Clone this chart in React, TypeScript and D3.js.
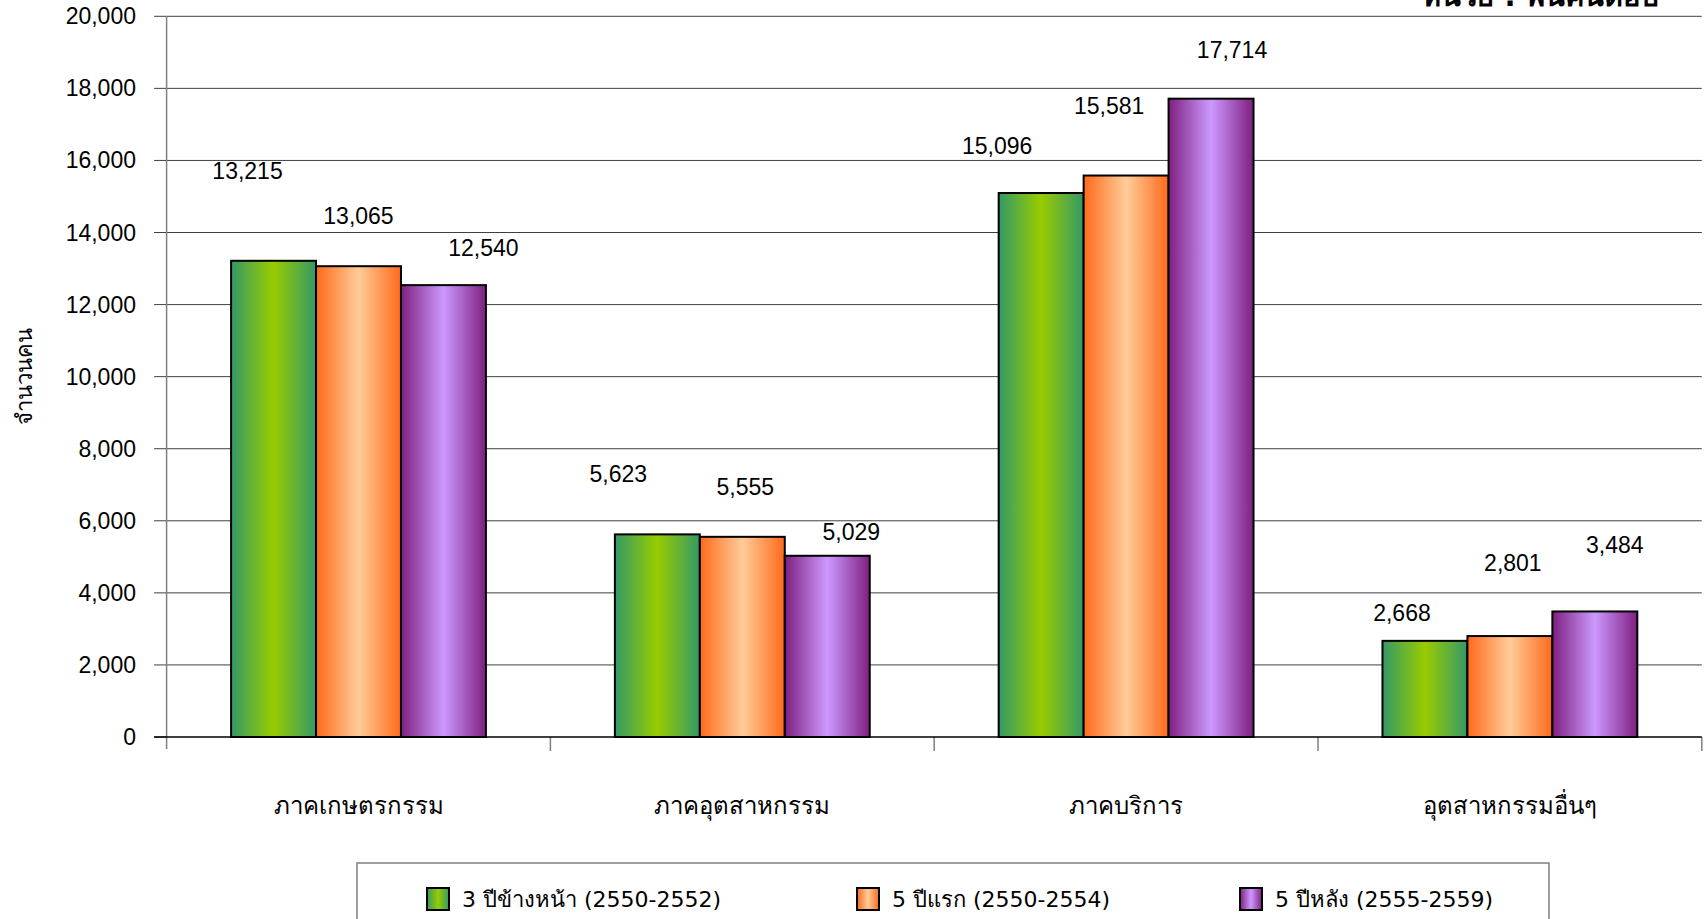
import React from "react";
import * as d3 from "d3";

const categories = ["ภาคเกษตรกรรม", "ภาคอุตสาหกรรม", "ภาคบริการ", "อุตสาหกรรมอื่นๆ"];
const seriesNames = ["3 ปีข้างหน้า (2550-2552)", "5 ปีแรก (2550-2554)", "5 ปีหลัง (2555-2559)"];
const series0 = [13215, 5623, 15096, 2668];
const series1 = [13065, 5555, 15581, 2801];
const series2 = [12540, 5029, 17714, 3484];
const yTicks = [0, 2000, 4000, 6000, 8000, 10000, 12000, 14000, 16000, 18000, 20000];
const unitLabel = "หน่วย : พันคนต่อปี";
const yTitle = "จำนวนคน";

// label offsets (px) relative to bar center/top, as moved in the original
const labelDx = [[-26, -39, -44, -23], [0, 3, -17, 3], [40, 24, 21, 20]];
const labelDy = [[-90, -60, -47, -28], [-50, -50, -70, -73], [-37, -24, -49, -67]];

const gradients = [
  { id: "g0", edge: "#339966", mid: "#99cc00" },
  { id: "g1", edge: "#ff6a1a", mid: "#ffcc99" },
  { id: "g2", edge: "#7f1f80", mid: "#cc99ff" },
];

const W = 1707, H = 919;
const left = 166.6, right = 1701.8, top = 16.3, bottom = 737;
const font = "'Liberation Sans', Arial, sans-serif";
const thaiFont = "Tahoma, 'DejaVu Sans', sans-serif";

export default function App() {
  const allSeries = [series0, series1, series2];
  const x = d3.scaleBand<string>().domain(categories).range([left, right]).paddingInner(0).paddingOuter(0);
  const y = d3.scaleLinear().domain([0, 20000]).range([bottom, top]);
  const bw = x.bandwidth();
  const inner = d3.scaleBand<number>().domain([0, 1, 2]).range([bw * 0.168, bw * 0.832]);
  const fmt = d3.format(",");

  return (
    <svg width={W} height={H} style={{ position: "fixed", left: 0, top: 0, background: "#fff" }}>
      <defs>
        {gradients.map((g) => (
          <linearGradient key={g.id} id={g.id} x1="0" x2="1" y1="0" y2="0">
            <stop offset="0" stopColor={g.edge} />
            <stop offset="0.5" stopColor={g.mid} />
            <stop offset="1" stopColor={g.edge} />
          </linearGradient>
        ))}
      </defs>
      {yTicks.map((t) => (
        <g key={t}>
          {t > 0 && <line x1={left} x2={right} y1={y(t)} y2={y(t)} stroke="#404040" strokeWidth={1} />}
          <line x1={left - 12.5} x2={left} y1={y(t)} y2={y(t)} stroke="#404040" strokeWidth={1} />
          <text x={136} y={y(t)} dy="0.35em" textAnchor="end" fontFamily={font} fontSize={23} fill="#000">
            {fmt(t)}
          </text>
        </g>
      ))}
      <line x1={left} x2={left} y1={top} y2={bottom + 12} stroke="#808080" strokeWidth={1.5} />
      {categories.map((c) => (
        <line key={c} x1={(x(c) as number) + bw} x2={(x(c) as number) + bw} y1={bottom} y2={bottom + 14} stroke="#808080" strokeWidth={1.5} />
      ))}
      {allSeries.map((s, si) =>
        s.map((v, ci) => {
          const bx = (x(categories[ci]) as number) + (inner(si) as number);
          return (
            <rect key={si + "-" + ci} x={bx} y={y(v)} width={inner.bandwidth()} height={bottom - y(v)} fill={`url(#g${si})`} stroke="#000" strokeWidth={2} />
          );
        })
      )}
      <line x1={left - 12.5} x2={right} y1={bottom} y2={bottom} stroke="#000" strokeWidth={1.5} />
      {allSeries.map((s, si) =>
        s.map((v, ci) => {
          const cx = (x(categories[ci]) as number) + (inner(si) as number) + inner.bandwidth() / 2;
          return (
            <text key={"l" + si + "-" + ci} x={cx + labelDx[si][ci]} y={y(v) + labelDy[si][ci]} dy="0.35em" textAnchor="middle" fontFamily={font} fontSize={23} fill="#000">
              {fmt(v)}
            </text>
          );
        })
      )}
      {categories.map((c) => (
        <text key={"c" + c} x={(x(c) as number) + bw / 2} y={806} dy="0.35em" textAnchor="middle" fontFamily={thaiFont} fontSize={24} fill="#000">
          {c}
        </text>
      ))}
      <text transform={`translate(24,376) rotate(-90)`} textAnchor="middle" dy="0.35em" fontFamily={thaiFont} fontSize={22} fill="#000">
        {yTitle}
      </text>
      <text x={1658} y={6} textAnchor="end" fontFamily={thaiFont} fontSize={29} fontWeight="bold" fill="#000">
        {unitLabel}
      </text>
      <rect x={357} y={863} width={1192} height={80} fill="#fff" stroke="#808080" strokeWidth={1.5} />
      {seriesNames.map((n, i) => {
        const lx = [427, 857, 1240][i];
        return (
          <g key={n}>
            <rect x={lx} y={888} width={22} height={22} fill={`url(#g${i})`} stroke="#000" strokeWidth={2} />
            <text x={lx + 35} y={899} dy="0.35em" fontFamily={thaiFont} fontSize={22} fill="#000">
              {n}
            </text>
          </g>
        );
      })}
    </svg>
  );
}
